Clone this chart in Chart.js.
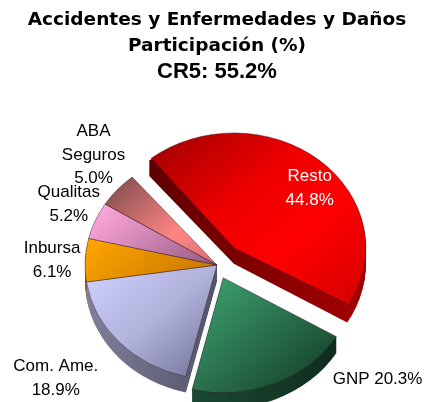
<!DOCTYPE html>
<html>
<head>
<meta charset="utf-8">
<script src="https://cdn.jsdelivr.net/npm/chart.js@4.4.1/dist/chart.umd.min.js"></script>
<style>
  html, body { margin: 0; padding: 0; background: #fff; }
</style>
</head>
<body>
<canvas id="pie" width="425" height="402"></canvas>
<script>
// ===== Datos (participación %)
const categories = ['Resto', 'GNP', 'Com. Ame.', 'Inbursa', 'Qualitas', 'ABA Seguros'];
const shares = [44.8, 20.3, 18.9, 6.1, 5.2, 5.0];
const titleLines = ['Accidentes y Enfermedades y Daños', 'Participación (%)'];
const subtitleText = 'CR5: 55.2%';

// ===== Estilo
const RADIUS = 132;
const SQUASH = 0.87;   // inclinación del pastel
const DEPTH = 16;      // grosor 3D en px
const offsets = [104, 64, 0, 0, 0, 0];   // Chart.js desplaza offset/4 px
const labelK = [0.97, 1.57, 1.57, 1.25, 1.24, 1.34];
const labelShift = [6, -28, 3.5, -0.6, 2.4, 4.7];
const labelInline = [false, true, false, false, false, false];
const labelWrap = [false, false, false, false, false, true];
const labelColor = ['#fff', '#000', '#000', '#000', '#000', '#000'];
const faceStops = [
  [[0.1, '#a00000'], [0.4, '#ee0000'], [0.6, '#ff0000'], [0.9, '#d00000']],
  [[0.5, '#3a9a6a'], [0.85, '#1c5036']],
  [[0.25, '#d0d2ff'], [0.5, '#b0b2dc'], [0.72, '#74759a']],
  [[0.2, '#ffa600'], [0.5, '#c97800']],
  [[0.15, '#ffa8dd'], [0.5, '#935a80']],
  [[0.15, '#955555'], [0.35, '#ff8585'], [0.5, '#d87070']]
];
const wallStops = [
  ['#4a0000', '#a00000'],
  ['#245e42', '#0e2a1c'],
  ['#80809c', '#262634'],
  ['#9a5a00', '#7a4400'],
  ['#6a3a5a', '#4a2a40'],
  ['#5a2020', '#401010']
];

function faceColor(c) {
  const area = c.chart.chartArea;
  if (!area) return '#ccc';
  const cx = (area.left + area.right) / 2, cy = (area.top + area.bottom) / 2;
  const g = c.chart.ctx.createLinearGradient(cx - RADIUS, cy - RADIUS, cx + RADIUS, cy + RADIUS);
  faceStops[c.dataIndex].forEach(([t, col]) => g.addColorStop(t, col));
  return g;
}

// ===== Plugin: inclinación + grosor
const depthPlugin = {
  id: 'depth3d',
  beforeDatasetsDraw(chart) {
    const ctx = chart.ctx;
    const meta = chart.getDatasetMeta(0);
    const arcs = meta.data;
    const baseR = meta.controller.outerRadius;
    const cx = arcs[0].x, cy = arcs[0].y;
    const mid = a => (a.startAngle + a.endAngle) / 2;
    // el offset de Chart.js agranda el radio; lo compensamos
    arcs.forEach(a => {
      const o = (a.options.offset || 0) / 4;
      const fix = 1 - Math.sin(Math.min(Math.PI, a.circumference));
      a.outerRadius = baseR - o * fix;
    });
    ctx.save();
    ctx.translate(0, cy * (1 - SQUASH));
    ctx.scale(1, SQUASH);
    const order = arcs.map((a, i) => i).sort((i, j) => Math.sin(mid(arcs[i])) - Math.sin(mid(arcs[j])));
    order.forEach(i => {
      const a = arcs[i];
      const o = (a.options.offset || 0) / 4;
      const m = mid(a);
      const ox = a.x + Math.cos(m) * o, oy = a.y + Math.sin(m) * o;
      const g = ctx.createLinearGradient(cx - baseR, 0, cx + baseR, 0);
      g.addColorStop(0, wallStops[i][0]);
      g.addColorStop(1, wallStops[i][1]);
      ctx.fillStyle = g;
      for (let d = DEPTH; d > 0; d--) {
        ctx.beginPath();
        ctx.moveTo(ox, oy + d / SQUASH);
        ctx.arc(ox, oy + d / SQUASH, baseR, a.startAngle, a.endAngle);
        ctx.closePath();
        ctx.fill();
      }
    });
  },
  afterDatasetsDraw(chart) {
    chart.ctx.restore();
  }
};

// ===== Plugin: etiquetas
const labelPlugin = {
  id: 'sliceLabels',
  afterDraw(chart) {
    const ctx = chart.ctx;
    const meta = chart.getDatasetMeta(0);
    const baseR = meta.controller.outerRadius;
    ctx.save();
    ctx.font = '17px "Liberation Sans", Arial, sans-serif';
    ctx.textAlign = 'center';
    ctx.textBaseline = 'middle';
    meta.data.forEach((a, i) => {
      const pct = shares[i].toFixed(1) + '%';
      let lines;
      if (labelInline[i]) lines = [categories[i] + ' ' + pct];
      else if (labelWrap[i]) lines = categories[i].split(' ').concat(pct);
      else lines = [categories[i], pct];
      const ang = (a.startAngle + a.endAngle) / 2 + labelShift[i] * Math.PI / 180;
      const x = a.x + Math.cos(ang) * labelK[i] * baseR;
      const y = a.y + Math.sin(ang) * labelK[i] * baseR * SQUASH;
      const lh = 23.5;
      ctx.fillStyle = labelColor[i];
      lines.forEach((t, k) => ctx.fillText(t, x, y + (k - (lines.length - 1) / 2) * lh));
    });
    ctx.restore();
  }
};

new Chart(document.getElementById('pie'), {
  type: 'pie',
  data: {
    labels: categories,
    datasets: [{
      data: shares,
      backgroundColor: faceColor,
      borderColor: 'rgba(40,20,30,0.45)',
      borderWidth: 1,
      offset: offsets,
      clip: false
    }]
  },
  options: {
    responsive: false,
    animation: false,
    rotation: -40,
    radius: RADIUS,
    layout: { padding: { left: 9, right: 0, top: 0, bottom: 5 } },
    plugins: {
      legend: { display: false },
      tooltip: { enabled: false },
      title: {
        display: true,
        text: titleLines,
        color: '#000',
        font: { family: '"DejaVu Sans", sans-serif', size: 18.5, weight: 'bold', lineHeight: '26px' },
        padding: { top: 7, bottom: 0 }
      },
      subtitle: {
        display: true,
        text: subtitleText,
        color: '#000',
        font: { family: '"Liberation Sans", Arial, sans-serif', size: 22, weight: 'bold', lineHeight: '26px' },
        padding: { top: 0, bottom: 48 }
      }
    }
  },
  plugins: [depthPlugin, labelPlugin]
});
</script>
</body>
</html>
